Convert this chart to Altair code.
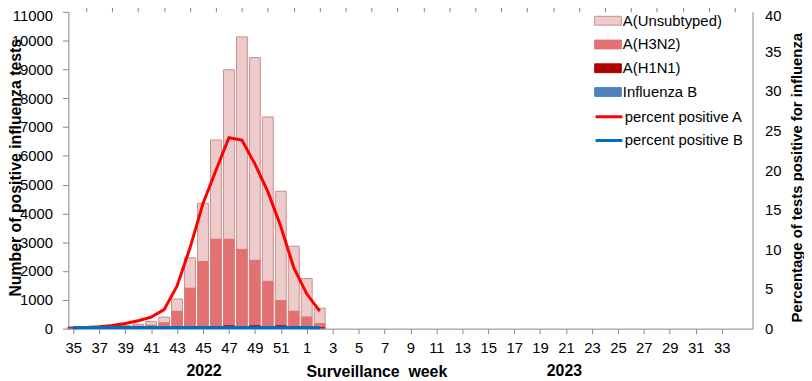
import json
import altair as alt
import pandas as pd

# ---- data ----
week_labels = [str(w) for w in list(range(35, 53)) + list(range(1, 35))]
data_weeks = ["35", "36", "37", "38", "39", "40", "41", "42", "43", "44",
              "45", "46", "47", "48", "49", "50", "51", "52", "1", "2"]

a_unsubtyped = [10, 10, 15, 25, 45, 70, 135, 200, 430, 1060,
                2020, 3450, 5890, 7380, 7040, 5710, 3800, 2260, 1340, 540]
a_h3n2 = [20, 20, 25, 30, 40, 60, 90, 175, 560, 1350,
          2270, 3040, 3000, 2680, 2270, 1570, 870, 540, 340, 140]
a_h1n1 = [15, 15, 10, 10, 10, 10, 10, 10, 20, 30,
          40, 40, 80, 50, 80, 50, 80, 40, 40, 20]
flu_b = [15, 15, 15, 15, 15, 15, 15, 15, 20, 20,
         20, 20, 20, 20, 20, 20, 20, 20, 20, 10]

pct_pos_a = [0.1, 0.15, 0.25, 0.4, 0.65, 1.0, 1.45, 2.4, 5.4, 10.2,
             15.8, 20.0, 24.1, 23.8, 20.8, 17.3, 12.9, 7.7, 4.4, 2.2]
pct_pos_b = [0.15, 0.15, 0.15, 0.15, 0.15, 0.15, 0.15, 0.15, 0.15, 0.15,
             0.15, 0.15, 0.15, 0.15, 0.15, 0.15, 0.15, 0.15, 0.15, 0.1]

series_names = ["A(Unsubtyped)", "A(H3N2)", "A(H1N1)", "Influenza B"]
series_values = [a_unsubtyped, a_h3n2, a_h1n1, flu_b]
series_fill = ["#eecbcb", "#e27272", "#ad0000", "#4f81bd"]
series_stroke = ["#c98e8e", "#e27272", "#ad0000", "#4f81bd"]
stack_rank = [3, 2, 1, 0]

line_names = ["percent positive A", "percent positive B"]
line_values = [pct_pos_a, pct_pos_b]
line_colors = ["#ff0000", "#0070c0"]

year_labels = ["2022", "2023"]


def week_index(pos, w):
    return pos if pos < 18 else 18 + int(w) - 1


# ---- tables ----
bar_rows = []
for name, vals, rank in zip(series_names, series_values, stack_rank):
    for i, w in enumerate(data_weeks):
        bar_rows.append({"idx": week_index(i, w), "week": w, "series": name,
                         "count": vals[i], "rank": rank})
bars_df = pd.DataFrame(bar_rows)

line_rows = []
for name, vals in zip(line_names, line_values):
    for i, w in enumerate(data_weeks):
        line_rows.append({"idx": week_index(i, w), "series": name, "pct": vals[i]})
lines_df = pd.DataFrame(line_rows)

FONT = "Liberation Sans"
GRAY = "#868686"

# labelled axis (every other week) and tick-only axis (every week)
x_axis_labels = alt.Axis(
    values=list(range(0, len(week_labels), 2)),
    labelExpr=f"{json.dumps(week_labels)}[datum.value]",
    labelFontSize=15, labelColor="black", labelFlush=False, labelOverlap=False,
    labelBound=False, labelPadding=7, tickSize=5, tickColor=GRAY, domainColor=GRAY,
    grid=False,
    title="Surveillance\u00a0 week", titleFontSize=16, titleFontWeight="bold",
    titleColor="black", titleX=311, titleY=43, titleBaseline="middle", titleAlign="center",
)
x_axis_ticks = alt.Axis(
    values=list(range(1, len(week_labels), 2)), labels=False, tickSize=5,
    tickColor=GRAY, domain=False, grid=False, title=None,
)

top_shift = {"condition": {"test": "datum.value == 11000", "value": 4}, "value": 0}
top_shift_r = {"condition": {"test": "datum.value == 40", "value": 4}, "value": 0}

left_axis = alt.Axis(
    values=list(range(0, 11001, 1000)), format="d", labelFontSize=15, labelColor="black",
    labelPadding=10, labelOffset=top_shift, tickSize=6, tickColor=GRAY,
    domainColor=GRAY, grid=False,
    title="Number of positive influenza tests", titleFontSize=16, titleFontWeight="bold",
    titleColor="black", titleX=-53, titleY=157, titleAngle=270,
    titleBaseline="middle", titleAlign="center",
)

right_axis = alt.Axis(
    orient="right", values=list(range(0, 41, 5)), labelFontSize=15, labelColor="black",
    labelPadding=12, labelOffset=top_shift_r, ticks=False, domainColor=GRAY, grid=False,
    title="Percentage of tests positive for influenza", titleFontSize=15,
    titleFontWeight="bold", titleColor="black", titleX=44, titleY=167, titleAngle=270,
    titleBaseline="middle", titleAlign="center",
)

bar_legend = alt.Legend(
    title=None, orient="none", legendX=531, legendY=-3,
    symbolType="M-1,-0.33H1V0.33H-1Z", symbolSize=729, symbolStrokeWidth=1,
    labelFontSize=15, labelColor="black", labelOffset=1, rowPadding=0, padding=0,
    clipHeight=24,
)
line_legend = alt.Legend(
    title=None, orient="none", legendX=531, legendY=94,
    symbolType="stroke", symbolSize=729, symbolStrokeWidth=3,
    labelFontSize=15, labelColor="black", labelOffset=1, rowPadding=0, padding=0,
    clipHeight=24,
)

xscale = alt.Scale(domain=[0, 52], nice=False, zero=False)

bars = alt.Chart(bars_df).mark_bar(width=11, strokeWidth=1).encode(
    x=alt.X("idx:Q", scale=xscale, axis=x_axis_labels),
    y=alt.Y("count:Q", stack="zero", scale=alt.Scale(domain=[0, 11000], nice=False), axis=left_axis),
    fill=alt.Fill("series:N", scale=alt.Scale(domain=series_names, range=series_fill), legend=bar_legend),
    stroke=alt.Stroke("series:N", scale=alt.Scale(domain=series_names, range=series_stroke), legend=bar_legend),
    order=alt.Order("rank:Q", sort="ascending"),
)

lines = alt.Chart(lines_df).mark_line(strokeWidth=3, interpolate="linear").encode(
    x=alt.X("idx:Q", scale=xscale, axis=x_axis_ticks),
    y=alt.Y("pct:Q", scale=alt.Scale(domain=[0, 40], nice=False), axis=right_axis),
    color=alt.Color("series:N", scale=alt.Scale(domain=line_names, range=line_colors), legend=line_legend),
)

year1 = alt.Chart(pd.DataFrame({"t": [year_labels[0]]})).mark_text(
    font=FONT, fontSize=16, fontWeight="bold", color="black", baseline="middle"
).encode(text="t:N", x=alt.value(137), y=alt.value(363))
year2 = alt.Chart(pd.DataFrame({"t": [year_labels[1]]})).mark_text(
    font=FONT, fontSize=16, fontWeight="bold", color="black", baseline="middle"
).encode(text="t:N", x=alt.value(501), y=alt.value(363))

chart = alt.layer(bars, lines, year1, year2).resolve_scale(
    y="independent", fill="independent", stroke="independent", color="independent"
).resolve_axis(x="independent").properties(
    width=691, height=320,
    autosize=alt.AutoSizeParams(type="none"),
    padding={"left": 61, "top": 2, "right": 52, "bottom": 49},
).configure(font=FONT).configure_view(stroke=None)

chart.save("out.html", embed_options={"renderer": "svg", "actions": False})
